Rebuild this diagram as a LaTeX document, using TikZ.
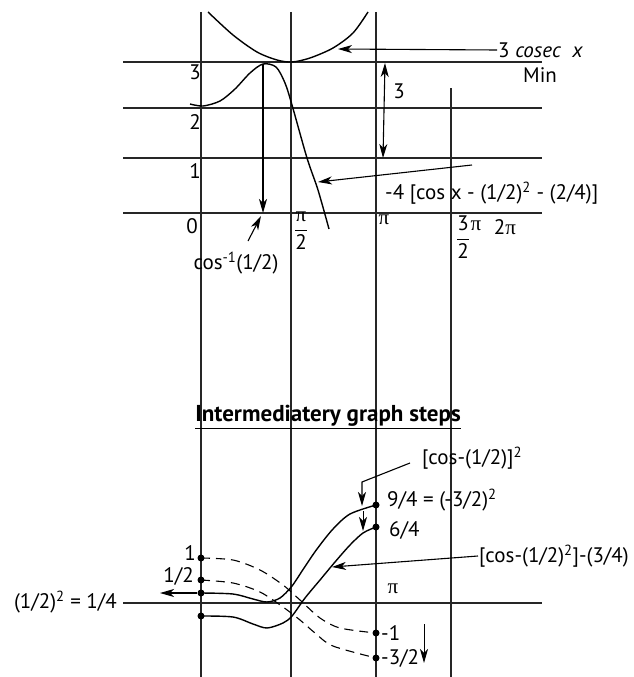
\documentclass[tikz,border=0pt]{standalone}
\usepackage{fontspec}
\setmainfont{PT Sans}
\newfontfamily\grkfont{Liberation Serif}
\newcommand{\piup}{{\grkfont π}}
\usetikzlibrary{arrows.meta}
\tikzset{
  gridline/.style={line width=1.3pt,black!85},
  curve/.style={line width=1.4pt},
  dashcurve/.style={line width=1.1pt,dash pattern=on 9pt off 6pt},
  dot/.style={circle,fill,inner sep=0pt,minimum size=7pt},
  lab/.style={inner sep=1pt,font=\fontsize{21}{25}\selectfont},
}
\begin{document}
\begin{tikzpicture}[x=1pt,y=-1pt,>={Stealth[length=14pt,width=8pt,inset=4pt]}]
  \useasboundingbox (0,0) rectangle (633,677);
  % grid
  \foreach \x in {201,291,376}
    \draw[gridline] (\x,12) -- (\x,677);
  \draw[gridline] (451,88) -- (451,677);
  \foreach \y in {62,108,158,213,603}
    \draw[gridline] (123,\y) -- (542,\y);

  % upper graph
  \node[lab] (ythree) at (195,72) {3};
  \node[lab] (ytwo) at (195,122) {2};
  \node[lab] (yone) at (195,171) {1};
  \node[lab] (yzero) at (192,226) {0};
  \node[lab] (pihalf) at (301,231) {$\displaystyle{\mbox{\piup}\over\mbox{2}}$};
  \node[lab] (pitop) at (384,220) {\piup};
  \node[lab] (threehalf) at (463,237) {$\displaystyle{\mbox{3}\over\mbox{2}}$};
  \node[lab] (threepi) at (476,226) {\piup};
  \node[lab] (twopi) at (505,227) {2\piup};

  \draw[curve] plot[smooth] coordinates {(208,12) (233,35) (257,52) (277,60) (292,62) (310,58) (333,48) (353,33) (368,12)};
  \draw[curve] plot[smooth] coordinates {(190,104) (203,106) (220,101) (235,89) (250,73) (263,64) (276,67) (285,83) (292,105) (307,158) (318,190) (329,229)};

  \node[lab,anchor=west] (csclab) at (497,50) {3 \textit{cosec}\ \ \textit{x}};
  \node[lab] (minlab) at (540,75) {Min};
  \coordinate (cscpt) at (338,49);
  \draw[->,line width=1.1pt] (csclab.west) -- (cscpt);

  \coordinate (gaptop) at (385,63);
  \coordinate (gapbot) at (383,158);
  \draw[<->,line width=1.1pt] (gaptop) -- (gapbot);
  \node[lab] (gaplab) at (399,91) {3};

  \node[lab,anchor=west] (mainlab) at (384,193) {-4 [cos x - (1/2)\textsuperscript{2} - (2/4)]};
  \coordinate (mainfrom) at (472,165);
  \coordinate (mainpt) at (318,182);
  \draw[->,line width=1.1pt] (mainfrom) -- (mainpt);

  \coordinate (peak) at (263,64);
  \coordinate (root) at (263,213);
  \draw[->,line width=1.1pt] (peak) -- (root);
  \node[lab] (acoslab) at (236,263) {cos\textsuperscript{-1}(1/2)};
  \coordinate (acosfrom) at (248,241);
  \coordinate (acosto) at (261,216);
  \draw[->,line width=1.1pt] (acosfrom) -- (acosto);

  % lower graph
  \node[lab,font=\fontsize{23}{27}\selectfont\bfseries] (title) at (328,417) {\underline{Intermediatery graph steps}};

  \node[dot] (done) at (201,558) {};
  \node[dot] (dhalf) at (201,580) {};
  \node[dot] (dquarter) at (201,593) {};
  \node[dot] (dlow) at (201,616) {};
  \node[dot] (dnine) at (376,505) {};
  \node[dot] (dsix) at (376,527) {};
  \node[dot] (dmone) at (376,633) {};
  \node[dot] (dmthree) at (376,658) {};

  \draw[curve] plot[smooth] coordinates {(dquarter.center) (233,594) (253,599) (267,602) (280,598) (292,586) (304,568) (317,549) (333,529) (350,514) (dnine.center)};
  \draw[curve] plot[smooth] coordinates {(dlow.center) (233,617) (253,624) (267,628) (283,623) (292,616) (305,598) (320,580) (335,562) (350,545) (363,533) (dsix.center)};
  \draw[dashcurve] plot[smooth] coordinates {(done.center) (233,560) (260,570) (283,585) (300,600) (320,618) (340,628) (dmone.center)};
  \draw[dashcurve] plot[smooth] coordinates {(dhalf.center) (233,583) (260,592) (283,607) (300,620) (315,633) (333,646) (dmthree.center)};

  \coordinate (quarterend) at (160,593);
  \draw[->,line width=1.1pt] (dquarter) -- (quarterend);

  \node[lab,anchor=east] (lone) at (197,553) {1};
  \node[lab,anchor=east] (lhalf) at (195,576) {1/2};
  \node[lab,anchor=east] (lquarter) at (118,602) {(1/2)\textsuperscript{2} = 1/4};
  \node[lab,anchor=west] (lnine) at (386,500) {9/4 = (-3/2)\textsuperscript{2}};
  \node[lab,anchor=west] (lsix) at (388,530) {6/4};
  \node[lab,anchor=west] (lsq) at (421,458) {[cos-(1/2)]\textsuperscript{2}};
  \node[lab,anchor=west] (lshift) at (478,556) {[cos-(1/2)\textsuperscript{2}]-(3/4)};
  \node[lab] (lpi) at (393,589) {\piup};
  \node[lab,anchor=west] (lmone) at (380,633) {-1};
  \node[lab,anchor=west] (lmthree) at (380,658) {-3/2};

  \coordinate (sqfrom) at (410,463);
  \coordinate (sqbend) at (362,482);
  \coordinate (sqto) at (362,506);
  \draw[->,line width=1.1pt] (sqfrom) -- (sqbend) -- (sqto);
  \coordinate (sixfrom) at (363,511);
  \coordinate (sixto) at (363,531);
  \draw[->,line width=1pt] (sixfrom) -- (sixto);

  \coordinate (shiftpt) at (332,567);
  \draw[->,line width=1.1pt] (lshift.west) -- (shiftpt);

  \coordinate (downa) at (424,624);
  \coordinate (downb) at (424,663);
  \draw[->,line width=1pt] (downa) -- (downb);
\end{tikzpicture}
\end{document}
